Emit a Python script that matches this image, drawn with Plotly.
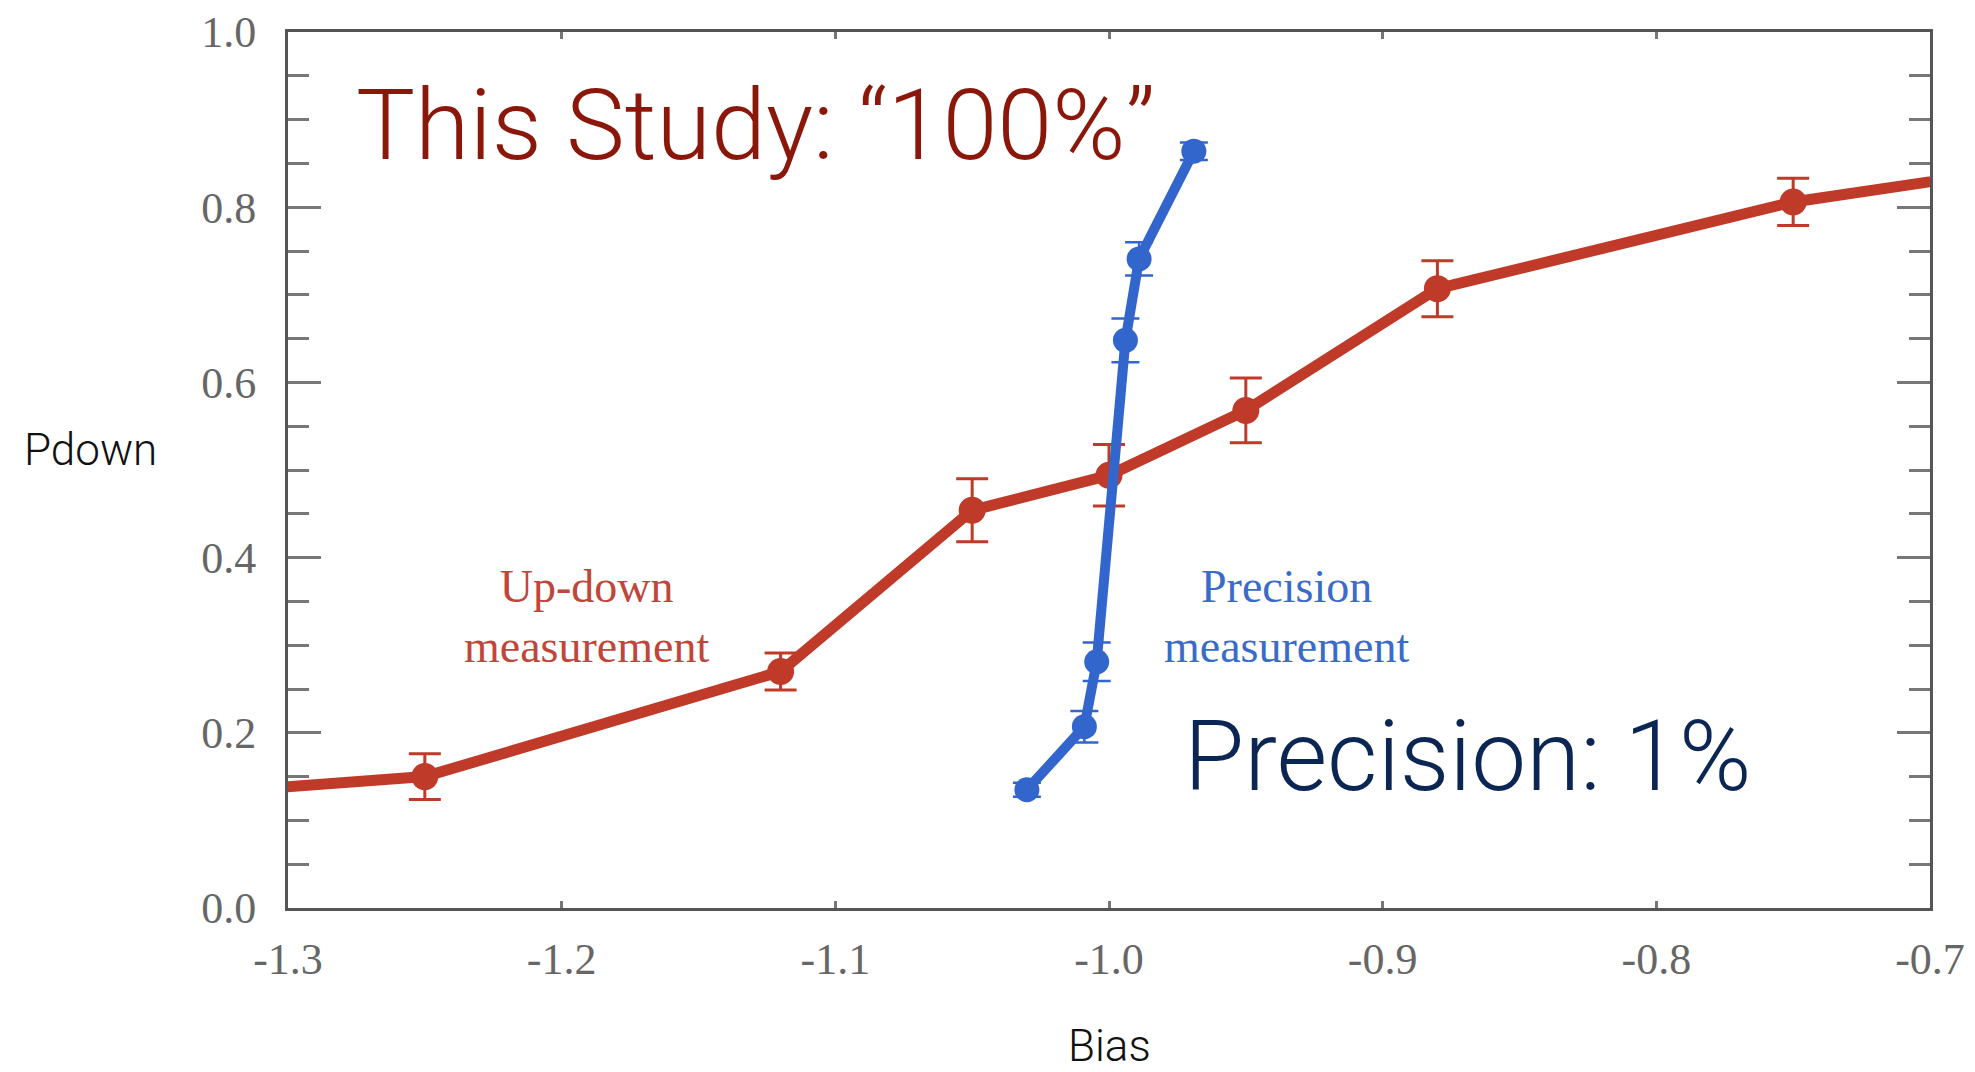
import plotly.graph_objects as go

# Up-down measurement (red); first/last points lie just outside the visible range
updown_bias = [-1.35, -1.25, -1.12, -1.05, -1.00, -0.95, -0.88, -0.75, -0.65]
updown_pdown = [0.127, 0.150, 0.270, 0.454, 0.494, 0.568, 0.707, 0.806, 0.852]
updown_err = [0.0, 0.026, 0.021, 0.036, 0.035, 0.037, 0.032, 0.027, 0.0]

# Precision measurement (blue)
prec_bias = [-1.030, -1.009, -1.0045, -0.994, -0.989, -0.969]
prec_pdown = [0.135, 0.207, 0.281, 0.648, 0.741, 0.864]
prec_err = [0.008, 0.018, 0.022, 0.025, 0.019, 0.010]

x_ticks = [-1.3, -1.2, -1.1, -1.0, -0.9, -0.8, -0.7]
x_ticklabels = ["-1.3", "-1.2", "-1.1", "-1.0", "-0.9", "-0.8", "-0.7"]
y_ticks = [0.0, 0.2, 0.4, 0.6, 0.8, 1.0]
y_ticklabels = ["0.0", "0.2", "0.4", "0.6", "0.8", "1.0"]

RED = "#bf3a28"
BLUE = "#3366cc"

fig = go.Figure()
fig.add_trace(go.Scatter(
    x=updown_bias, y=updown_pdown, mode="lines+markers",
    line=dict(color=RED, width=11),
    marker=dict(color=RED, size=27),
    error_y=dict(type="data", array=updown_err, color=RED, thickness=3, width=16),
    showlegend=False,
))
fig.add_trace(go.Scatter(
    x=prec_bias, y=prec_pdown, mode="lines+markers",
    line=dict(color=BLUE, width=10),
    marker=dict(color=BLUE, size=25),
    error_y=dict(type="data", array=prec_err, color=BLUE, thickness=2.5, width=14),
    showlegend=False,
))

tickfont = dict(family="Liberation Serif", size=44, color="#666666")
fig.update_xaxes(
    range=[-1.3, -0.7], tickvals=x_ticks, ticktext=x_ticklabels,
    ticks="inside", ticklen=7, tickwidth=3, tickcolor="#777777",
    showline=True, linecolor="#555555", linewidth=3, mirror="ticks",
    showgrid=False, zeroline=False, tickfont=tickfont, ticklabelstandoff=10,
    automargin=False,
)
fig.update_yaxes(
    range=[0.0, 1.0], tickvals=y_ticks, ticktext=y_ticklabels,
    ticks="inside", ticklen=33, tickwidth=3, tickcolor="#777777",
    minor=dict(dtick=0.05, ticks="inside", ticklen=21, tickwidth=3, tickcolor="#777777", showgrid=False),
    showline=True, linecolor="#555555", linewidth=3, mirror="ticks",
    showgrid=False, zeroline=False, tickfont=tickfont, ticklabelstandoff=20,
    automargin=False,
)

annotations = [
    dict(text="Pdown", xref="paper", yref="paper", x=-0.12, y=0.523, showarrow=False,
         font=dict(family="Roboto", size=44, color="#111111", weight=300), xanchor="center", yanchor="middle"),
    dict(text="Bias", xref="paper", yref="paper", x=0.5, y=(908 - 1046) / 876, showarrow=False,
         font=dict(family="Roboto", size=44, color="#111111", weight=300), xanchor="center", yanchor="middle"),
    dict(text="Up-down<br>measurement", xref="x", yref="y", x=-1.191, y=0.333, showarrow=False,
         font=dict(family="Liberation Serif", size=46, color="#c0463a"), xanchor="center", yanchor="middle"),
    dict(text="Precision<br>measurement", xref="x", yref="y", x=-0.935, y=0.333, showarrow=False,
         font=dict(family="Liberation Serif", size=46, color="#3a6bc9"), xanchor="center", yanchor="middle"),
    dict(text="This Study: \u201c100%\u201d", xref="paper", yref="paper", x=(354 - 288) / 1642, y=(908 - 125) / 876,
         showarrow=False, font=dict(family="Roboto", size=99, color="#8b160a", weight=300),
         xanchor="left", yanchor="middle"),
    dict(text="Precision: 1%", xref="paper", yref="paper", x=(1182 - 288) / 1642, y=(908 - 756) / 876,
         showarrow=False, font=dict(family="Roboto", size=98, color="#0c2654", weight=300),
         xanchor="left", yanchor="middle"),
]

fig.update_layout(
    width=1967, height=1064,
    margin=dict(l=280, r=45, t=24, b=164),
    paper_bgcolor="white", plot_bgcolor="white",
    annotations=annotations,
)

fig.write_html("out.html")
